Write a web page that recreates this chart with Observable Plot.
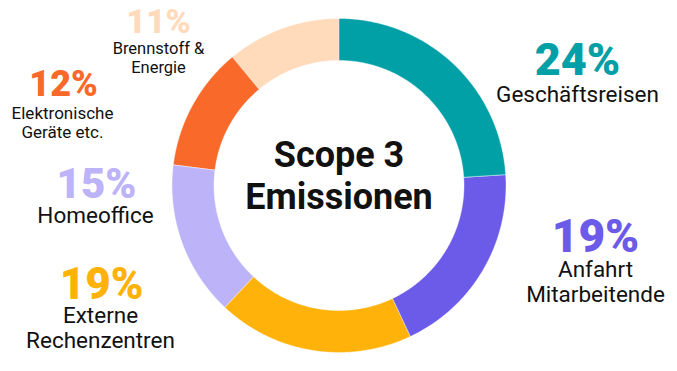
<!DOCTYPE html>
<html>
<head>
<meta charset="utf-8">
<script src="https://cdn.jsdelivr.net/npm/d3@7"></script>
<script src="https://cdn.jsdelivr.net/npm/@observablehq/plot@0.6"></script>
<style>
  html, body { margin: 0; padding: 0; background: #fff; }
  #chart svg { display: block; }
</style>
</head>
<body>
<div id="chart"></div>
<script>
// ---- data ----
const categories = ["Geschäftsreisen", "Anfahrt Mitarbeitende", "Externe Rechenzentren", "Homeoffice", "Elektronische Geräte etc.", "Brennstoff & Energie"];
const labelLines = ["Geschäftsreisen", "Anfahrt\nMitarbeitende", "Externe\nRechenzentren", "Homeoffice", "Elektronische\nGeräte etc.", "Brennstoff &\nEnergie"];
const values = [24, 19, 19, 15, 12, 11];
const colors = ["#00a0a6", "#6c5ae8", "#ffb20a", "#bdb3f8", "#f9692a", "#ffdbbc"];
const centerTitle = "Scope 3\nEmissionen";

// ---- layout (pixels) ----
const W = 677, H = 371;
const CX = 338.5, CY = 185, R = 167, RIN = 125;
// [number x, number baseline, label x, label last baseline, number size, label size, line height]
const labelLayout = [
  [577, 74, 577, 101, 45, 22.5, 1.07],
  [595, 251, 595, 301, 46, 22.5, 1.07],
  [101, 298, 100, 347, 44, 22.5, 1.07],
  [96, 197, 95, 222, 42, 22.5, 1.07],
  [63, 95, 62, 137, 36, 17, 1.1],
  [158, 32, 158, 72, 34, 16.5, 1.1]
];

const toX = px => (px - CX) / R;
const toY = py => (CY - py) / R;

// build arc polygons from cumulative values
const total = d3.sum(values);
const arcPts = [];
let acc = 0;
values.forEach((v, i) => {
  const a0 = acc / total * 2 * Math.PI;
  const a1 = (acc + v) / total * 2 * Math.PI;
  acc += v;
  const n = Math.max(8, Math.ceil((a1 - a0) / (Math.PI / 360)));
  const ri = RIN / R;
  for (let k = 0; k <= n; k++) {
    const a = a0 + (a1 - a0) * k / n;
    arcPts.push({cat: categories[i], x: Math.sin(a), y: Math.cos(a)});
  }
  for (let k = n; k >= 0; k--) {
    const a = a0 + (a1 - a0) * k / n;
    arcPts.push({cat: categories[i], x: ri * Math.sin(a), y: ri * Math.cos(a)});
  }
});

const numberData = categories.map((c, i) => ({
  cat: c, text: values[i] + "%",
  x: toX(labelLayout[i][0]), y: toY(labelLayout[i][1]), size: labelLayout[i][4]
}));
const labelData = categories.map((c, i) => ({
  cat: c, text: labelLines[i],
  x: toX(labelLayout[i][2]), y: toY(labelLayout[i][3]), size: labelLayout[i][5], lh: labelLayout[i][6]
}));

const numFont = "Roboto, 'Noto Sans', sans-serif";
const labFont = "Roboto, 'Noto Sans', sans-serif";

const numberMarks = numberData.map(d => Plot.text([d], {
  x: "x", y: "y", text: "text", fill: "cat", fontSize: d.size, fontWeight: 900,
  fontFamily: numFont, lineAnchor: "bottom", textAnchor: "middle"
}));
const labelMarks = labelData.map(d => Plot.text([d], {
  x: "x", y: "y", text: "text", fill: "#111", fontSize: d.size, fontWeight: 400,
  fontFamily: labFont, lineAnchor: "bottom", textAnchor: "middle", lineHeight: d.lh
}));

const chart = Plot.plot({
  width: W, height: H,
  margin: 0,
  x: {domain: [toX(0), toX(W)], axis: null},
  y: {domain: [toY(H), toY(0)], axis: null},
  color: {domain: categories, range: colors},
  marks: [
    Plot.line(arcPts, {x: "x", y: "y", z: "cat", fill: "cat", stroke: "#fff", strokeWidth: 0.4, curve: "linear-closed"}),
    Plot.text([{x: 0, y: toY(CY + 23), t: centerTitle}], {
      x: "x", y: "y", text: "t", fontSize: 36, fontWeight: 700, fill: "#111",
      fontFamily: numFont, lineAnchor: "bottom", lineHeight: 1.14
    }),
    ...numberMarks,
    ...labelMarks
  ]
});
document.getElementById("chart").appendChild(chart);
</script>
</body>
</html>
